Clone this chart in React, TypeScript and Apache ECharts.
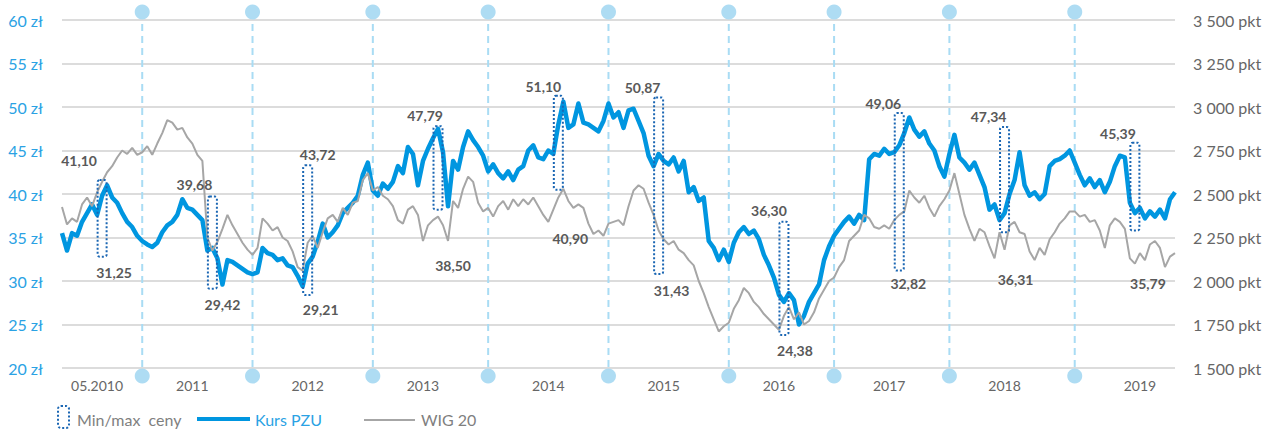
import React, { useEffect, useRef } from "react";
import * as echarts from "echarts";

// ---- data ----
const years = [2010, 2011, 2012, 2013, 2014, 2015, 2016, 2017, 2018, 2019];
const tickLabels = ["05.2010", "2011", "2012", "2013", "2014", "2015", "2016", "2017", "2018", "2019"];
const tickIndex = [7, 26, 49, 72, 97, 120, 143, 165, 188, 215];

// Kurs PZU (zł), sampled roughly every two weeks
const pzu2010 = [35.5, 33.5, 35.5, 35.2, 36.8, 37.8, 38.8, 37.6, 39.8, 41.0, 39.6, 39.0, 37.8, 36.8, 36.2, 35.2];
const pzu2011 = [34.6, 34.2, 33.9, 34.4, 35.6, 36.4, 36.8, 37.6, 39.4, 38.4, 38.2, 37.6, 37.0, 33.5, 33.8, 32.6, 29.6, 32.4, 32.2, 31.8, 31.4, 31.0];
const pzu2012 = [30.8, 31.0, 33.8, 33.2, 33.0, 32.4, 32.6, 31.8, 31.6, 30.6, 29.4, 32.0, 32.8, 34.5, 36.6, 35.0, 35.6, 36.4, 37.8, 38.4, 39.0, 39.8, 42.2, 43.6];
const pzu2013 = [40.4, 39.8, 41.2, 40.6, 41.4, 43.2, 42.4, 45.4, 44.6, 41.0, 43.8, 45.2, 46.4, 47.5, 44.8, 38.6, 43.8, 42.8, 45.4, 47.2, 46.2, 45.4, 44.4];
const pzu2014 = [42.6, 43.4, 42.4, 41.8, 42.6, 41.6, 42.8, 43.2, 45.0, 45.6, 44.2, 44.0, 45.0, 44.6, 48.0, 50.6, 47.6, 48.0, 50.4, 48.2, 48.0, 47.6, 47.2, 48.4];
const pzu2015 = [50.4, 48.8, 49.4, 47.6, 49.6, 49.8, 48.4, 47.0, 44.4, 43.2, 44.6, 43.8, 43.4, 44.2, 42.6, 43.8, 40.2, 40.8, 39.2, 39.6, 34.6, 33.8, 32.4, 33.6];
const pzu2016 = [32.2, 34.4, 35.6, 36.2, 35.4, 35.8, 34.8, 33.0, 31.8, 30.4, 28.4, 27.6, 28.6, 27.8, 25.0, 26.0, 27.6, 28.6, 29.6, 32.4, 34.0];
const pzu2017 = [35.2, 36.0, 36.8, 37.4, 36.6, 37.6, 37.0, 44.0, 44.6, 44.4, 45.2, 44.6, 44.8, 45.6, 47.0, 48.8, 47.4, 46.6, 47.2, 45.8, 45.0, 43.2, 42.0];
const pzu2018 = [44.6, 46.8, 44.2, 43.6, 42.8, 43.6, 42.2, 40.8, 38.2, 38.8, 37.0, 37.8, 40.0, 41.6, 44.8, 41.0, 39.8, 40.2, 39.4, 40.0, 43.2, 43.8, 44.0, 44.4, 45.0];
const pzu2019 = [43.6, 42.2, 41.0, 41.8, 40.8, 41.6, 40.2, 41.4, 43.2, 44.4, 44.2, 39.0, 37.8, 38.4, 37.2, 38.0, 37.4, 38.2, 37.2, 39.4, 40.2];

// WIG 20 (pkt)
const wig2010 = [2425, 2325, 2360, 2340, 2440, 2480, 2430, 2510, 2570, 2625, 2660, 2710, 2750, 2730, 2765, 2725];
const wig2011 = [2740, 2775, 2725, 2790, 2850, 2925, 2910, 2870, 2880, 2825, 2790, 2725, 2690, 2250, 2175, 2225, 2300, 2380, 2320, 2270, 2220, 2180];
const wig2012 = [2150, 2190, 2360, 2330, 2290, 2310, 2250, 2230, 2170, 2080, 2060, 2220, 2260, 2190, 2280, 2360, 2380, 2340, 2420, 2380, 2450, 2460, 2580, 2620];
const wig2013 = [2520, 2540, 2490, 2470, 2430, 2350, 2330, 2410, 2430, 2380, 2230, 2320, 2350, 2370, 2320, 2230, 2460, 2420, 2530, 2600, 2570, 2450, 2400];
const wig2014 = [2420, 2370, 2430, 2460, 2410, 2470, 2430, 2470, 2440, 2480, 2430, 2380, 2340, 2410, 2480, 2530, 2460, 2420, 2440, 2420, 2330, 2270, 2290, 2260];
const wig2015 = [2330, 2340, 2350, 2320, 2430, 2520, 2550, 2530, 2450, 2380, 2290, 2240, 2210, 2230, 2180, 2160, 2120, 2090, 2000, 1930, 1850, 1780, 1710, 1740];
const wig2016 = [1760, 1840, 1890, 1960, 1930, 1880, 1850, 1810, 1780, 1750, 1720, 1800, 1850, 1780, 1820, 1750, 1770, 1820, 1900, 1950, 2000];
const wig2017 = [2020, 2080, 2120, 2230, 2260, 2290, 2380, 2360, 2310, 2300, 2320, 2300, 2350, 2380, 2400, 2520, 2480, 2450, 2490, 2420, 2370, 2430, 2470];
const wig2018 = [2520, 2620, 2500, 2380, 2300, 2230, 2300, 2280, 2200, 2130, 2280, 2180, 2320, 2340, 2280, 2270, 2170, 2120, 2190, 2150, 2240, 2280, 2330, 2360, 2400];
const wig2019 = [2400, 2370, 2380, 2340, 2350, 2290, 2190, 2320, 2360, 2340, 2300, 2130, 2100, 2160, 2120, 2210, 2230, 2190, 2080, 2140, 2160];

// yearly min / max of the PZU price
const maxVals = [41.1, 39.68, 43.72, 47.79, 51.1, 50.87, 36.3, 49.06, 47.34, 45.39];
const minVals = [31.25, 29.42, 29.21, 38.5, 40.9, 31.43, 24.38, 32.82, 36.31, 35.79];
// min/max boxes as drawn (zł) and where they sit on the time axis (sample index)
const boxHigh = [41.6, 39.7, 43.3, 47.8, 51.3, 51.1, 36.8, 49.3, 47.7, 45.9];
const boxLow = [32.8, 29.1, 28.4, 38.2, 40.5, 30.8, 23.8, 31.2, 35.6, 35.8];
const boxIndex = [8, 30, 49, 75, 99, 119, 144, 167, 188, 214];

// ---- styles ----
const maxLabelOffset = [[-23, -20], [-18, -12], [10, -11], [-13, -11], [-15, -9], [-16, -10], [-15, -11], [-16, -10], [-16, -11], [-17, -9]];
const minLabelOffset = [[12, 16], [10, 16], [13, 15], [15, 56], [12, 49], [13, 16], [11, 16], [9, 13], [11, 47], [13, 53]];

const FONT = "Lato, 'Open Sans', sans-serif";
const BLUE = "#0096e0";
const BLUE_TXT = "#2aa2e4";
const GRAY = "#a6a6a6";
const TXT = "#666666";
const BOX = "#1a66b3";
const DIV = "#a9dcf4";

const pzuByYear = [pzu2010, pzu2011, pzu2012, pzu2013, pzu2014, pzu2015, pzu2016, pzu2017, pzu2018, pzu2019];
const wigByYear = [wig2010, wig2011, wig2012, wig2013, wig2014, wig2015, wig2016, wig2017, wig2018, wig2019];

export default function App() {
  const ref = useRef<HTMLDivElement>(null);
  useEffect(() => {
    if (!ref.current) return;
    const chart = echarts.init(ref.current, undefined, { renderer: "svg" });

    const pzu = pzuByYear.flat();
    const wig = wigByYear.flat();
    const categories = pzuByYear.flatMap((arr, k) => arr.map((_, j) => `${years[k]}-${j + 1}`));
    const yearStarts: number[] = [];
    let acc = 0;
    pzuByYear.forEach((a) => {
      yearStarts.push(acc);
      acc += a.length;
    });
    const boundaries = yearStarts.slice(1);
    const fmt = (v: number) => v.toFixed(2).replace(".", ",");
    const pkt = (v: number) => String(v).replace(/\B(?=(\d{3})+(?!\d))/g, " ") + " pkt";

    const option: any = {
      animation: false,
      backgroundColor: "#ffffff",
      grid: { left: 62, right: 101, top: 20, bottom: 62 },
      xAxis: {
        type: "category",
        data: categories,
        boundaryGap: false,
        axisLine: { show: false },
        axisTick: { show: false },
        splitLine: { show: false },
        axisLabel: {
          interval: (i: number) => tickIndex.includes(i),
          formatter: (_v: string, i: number) => {
            const k = tickIndex.indexOf(i);
            return k >= 0 ? tickLabels[k] : "";
          },
          color: TXT,
          fontSize: 14,
          fontFamily: FONT,
          margin: 10,
        },
      },
      yAxis: [
        {
          type: "value",
          min: 20,
          max: 60,
          interval: 5,
          position: "left",
          axisLine: { show: false },
          axisTick: { show: false },
          axisLabel: { formatter: "{value} zł", color: BLUE_TXT, fontSize: 16, fontFamily: FONT, margin: 19 },
          splitLine: { lineStyle: { color: "#dcdcdc", width: 2 } },
        },
        {
          type: "value",
          min: 1500,
          max: 3500,
          interval: 250,
          position: "right",
          axisLine: { show: false },
          axisTick: { show: false },
          axisLabel: { formatter: pkt, color: TXT, fontSize: 16, fontFamily: FONT, margin: 18 },
          splitLine: { show: false },
        },
      ],
      series: [
        {
          type: "custom",
          name: "dividers",
          z: 1,
          clip: false,
          silent: true,
          encode: { x: 0, y: 1 },
          data: boundaries.map((b) => [b, 20]),
          renderItem: (params: any, api: any) => {
            const x = api.coord([api.value(0), 20])[0];
            const cs = params.coordSys;
            const top = cs.y - 8;
            const bot = cs.y + cs.height + 8;
            return {
              type: "group",
              children: [
                { type: "line", shape: { x1: x, y1: top, x2: x, y2: bot }, style: { stroke: DIV, lineWidth: 2, lineDash: [7, 5] } },
                { type: "circle", shape: { cx: x, cy: top, r: 7.5 }, style: { fill: "#aedcf3" } },
                { type: "circle", shape: { cx: x, cy: bot, r: 7.5 }, style: { fill: "#aedcf3" } },
              ],
            };
          },
        },
        {
          type: "line",
          name: "Kurs PZU",
          yAxisIndex: 0,
          data: pzu,
          showSymbol: false,
          z: 3,
          lineStyle: { color: BLUE, width: 4.5, join: "round" },
          itemStyle: { color: BLUE },
        },
        {
          type: "line",
          name: "WIG 20",
          yAxisIndex: 1,
          data: wig,
          showSymbol: false,
          z: 4,
          lineStyle: { color: GRAY, width: 2 },
          itemStyle: { color: GRAY },
        },
        {
          type: "custom",
          name: "Min/max ceny",
          z: 5,
          clip: false,
          silent: true,
          yAxisIndex: 0,
          encode: { x: 0, y: [1, 2] },
          data: boxIndex.map((b, k) => [b, boxHigh[k], boxLow[k]]),
          renderItem: (params: any, api: any) => {
            const k = params.dataIndex;
            const pTop = api.coord([api.value(0), api.value(1)]);
            const pBot = api.coord([api.value(0), api.value(2)]);
            const w = 9;
            const mo = maxLabelOffset[k];
            const no = minLabelOffset[k];
            return {
              type: "group",
              children: [
                {
                  type: "rect",
                  shape: { x: pTop[0] - w / 2, y: pTop[1], width: w, height: pBot[1] - pTop[1], r: 2 },
                  style: { fill: "none", stroke: BOX, lineWidth: 2, lineDash: [2, 2] },
                },
                {
                  type: "text",
                  x: pTop[0] + mo[0],
                  y: pTop[1] + mo[1],
                  style: { text: fmt(maxVals[k]), fill: "#595959", font: `bold 14px ${FONT}`, align: "center", verticalAlign: "middle" },
                },
                {
                  type: "text",
                  x: pBot[0] + no[0],
                  y: pBot[1] + no[1],
                  style: { text: fmt(minVals[k]), fill: "#595959", font: `bold 14px ${FONT}`, align: "center", verticalAlign: "middle" },
                },
              ],
            };
          },
        },
      ],
      graphic: [
        {
          type: "rect",
          shape: { x: 58, y: 406, width: 11, height: 22, r: 3 },
          style: { fill: "none", stroke: BOX, lineWidth: 2, lineDash: [2, 2] },
        },
        {
          type: "text",
          x: 77,
          y: 419,
          style: { text: "Min/max\u00a0\u00a0ceny", fill: "#7f7f7f", font: `16px ${FONT}`, verticalAlign: "middle" },
        },
        { type: "line", shape: { x1: 197, y1: 419, x2: 250, y2: 419 }, style: { stroke: BLUE, lineWidth: 4 } },
        {
          type: "text",
          x: 255,
          y: 419,
          style: { text: "Kurs PZU", fill: BLUE_TXT, font: `16px ${FONT}`, verticalAlign: "middle" },
        },
        { type: "line", shape: { x1: 364, y1: 420, x2: 415, y2: 420 }, style: { stroke: GRAY, lineWidth: 2 } },
        {
          type: "text",
          x: 421,
          y: 419,
          style: { text: "WIG 20", fill: "#7f7f7f", font: `16px ${FONT}`, verticalAlign: "middle" },
        },
      ],
    };
    chart.setOption(option);
    return () => chart.dispose();
  }, []);
  return <div ref={ref} style={{ position: "fixed", left: 0, top: 0, width: 1276, height: 430, background: "#fff" }} />;
}
